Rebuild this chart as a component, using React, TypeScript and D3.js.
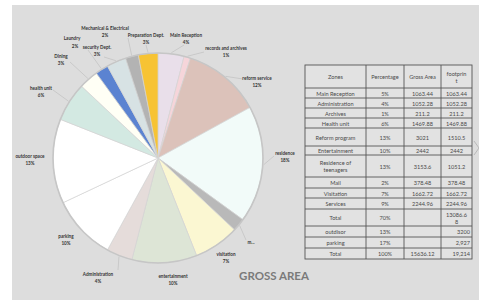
import React from 'react';
import * as d3 from 'd3';

// ---- Pie data (clockwise from 12 o'clock) ----
const sliceNames = [
  'Main Reception', 'records and archives', 'reform service', 'residence', 'm...',
  'visitation', 'entertainment', 'Administration', 'parking', 'outdoor space',
  'health unit', 'Dining', 'Laundry', 'security Dept.', 'Mechanical & Electrical', 'Preparation Dept.',
];
const sliceValues = [4, 1, 12, 18, 2, 7, 10, 4, 10, 13, 6, 3, 2, 3, 2, 3];
const slicePctShown = [true, true, true, true, false, true, true, true, true, true, true, true, true, true, true, true];
const sliceColors = [
  '#e9dfea', '#f6d5da', '#dcc2ba', '#f2fbf9', '#b9b9b9',
  '#fbf7d2', '#dde5d6', '#e5dcda', '#ffffff', '#ffffff',
  '#d3e9e2', '#fffff5', '#5b83d1', '#d7e2e4', '#b3b3b3', '#f7c333',
];

// ---- Table data ----
const tableHeader = ['Zones', 'Percentage', 'Gross Area', 'footprin\nt'];
const zones = ['Main Reception', 'Administration', 'Archives', 'Health unit', 'Reform program', 'Entertainment', 'Residence of\nteenagers', 'Mail', 'Visitation', 'Services', 'Total', 'outdisor', 'parking', 'Total'];
const percentages = ['5%', '4%', '1%', '6%', '13%', '10%', '13%', '2%', '7%', '9%', '70%', '13%', '17%', '100%'];
const grossArea = ['1063.44', '1052.28', '211.2', '1469.88', '3021', '2442', '3153.6', '378.48', '1662.72', '2244.96', '', '', '', '15636.12'];
const footprint = ['1063.44', '1052.28', '211.2', '1469.88', '1510.5', '2442', '1051.2', '378.48', '1662.72', '2244.96', '13086.6\n8', '3200', '2,927', '19,214'];
const footprintRightAligned = [false, false, false, false, false, false, false, false, false, false, false, true, true, true];

const title = 'GROSS AREA';

// ---- Layout (positions only) ----
const W = 479, H = 300;
const CX = 158, CY = 158, R = 105;
const labelPos: [number, number][] = [
  [186, 35], [226, 48], [257, 78], [285, 153], [251, 242],
  [226, 254], [173, 276], [98, 274], [66, 236], [30, 156],
  [41, 88], [61, 56], [72, 38], [97, 47], [105, 28], [146, 35],
];
const pctOffset: [number, number][] = labelPos.map((_, i) => (i === 12 ? [3, 8] : [0, 7]));
const leaderEnd: ([number, number] | null)[] = [
  [184, 45], [204, 52], [243, 79], [274, 156], [246, 240],
  null, null, [118, 270], null, null,
  [53, 90], [70, 62], [88, 50], [104, 57], [128, 38], [146, 45],
];
const colX = [305, 366, 404, 441, 472];
const headerTop = 65, headerH = 23;
const rowHeights = [10, 10, 10, 10, 18, 9, 22, 11, 10, 11, 17, 11, 11, 11];

export default function App() {
  const pie = d3.pie<number>().sort(null).value(d => d).startAngle(0).endAngle(2 * Math.PI);
  const arcs = pie(sliceValues);
  const arcGen = d3.arc<d3.PieArcDatum<number>>().innerRadius(0).outerRadius(R);

  const rowTops: number[] = [];
  let y = headerTop + headerH;
  rowHeights.forEach(h => { rowTops.push(y); y += h; });
  const tableBottom = y;

  const labelFont = 'Lato, "Liberation Sans", sans-serif';

  const cellText = (txt: string, x: number, yc: number, anchor: 'middle' | 'end', key: string) => {
    const lines = txt.split('\n');
    const lh = 7;
    const y0 = yc - ((lines.length - 1) * lh) / 2;
    return (
      <text key={key} x={x} textAnchor={anchor} fontFamily={labelFont} fontSize={5.6} fill="#4a4a4a">
        {lines.map((l, i) => (
          <tspan key={i} x={x} y={y0 + i * lh} dominantBaseline="central">{l}</tspan>
        ))}
      </text>
    );
  };

  const rows = zones.map((z, i) => {
    const top = rowTops[i];
    const yc = top + rowHeights[i] / 2;
    const cx = (a: number) => (colX[a] + colX[a + 1]) / 2;
    return (
      <g key={'r' + i}>
        {cellText(z, cx(0), yc, 'middle', 'z')}
        {cellText(percentages[i], cx(1), yc, 'middle', 'p')}
        {grossArea[i] ? cellText(grossArea[i], cx(2), yc, 'middle', 'g') : null}
        {footprintRightAligned[i]
          ? cellText(footprint[i], colX[4] - 2, yc, 'end', 'f')
          : cellText(footprint[i], cx(3), yc, 'middle', 'f')}
      </g>
    );
  });

  return (
    <svg width={W} height={H} style={{ position: 'absolute', left: 0, top: 0 }}>
      <rect x={0} y={0} width={W} height={H} fill="#ffffff" />
      <rect x={12} y={5} width={W - 12} height={H - 5} fill="#dddddd" />

      {/* pie */}
      <g transform={`translate(${CX},${CY})`}>
        {arcs.map((a, i) => (
          <path key={i} d={arcGen(a) || ''} fill={sliceColors[i]} stroke="#d4d4d4" strokeWidth={0.7} />
        ))}
        <circle r={R} fill="none" stroke="#c6c6c6" strokeWidth={1.6} />
      </g>

      {/* leader lines */}
      {arcs.map((a, i) => {
        const e = leaderEnd[i];
        if (!e) return null;
        const mid = (a.startAngle + a.endAngle) / 2;
        const sx = CX + (R + 1) * Math.sin(mid);
        const sy = CY - (R + 1) * Math.cos(mid);
        return <line key={'l' + i} x1={sx} y1={sy} x2={e[0]} y2={e[1]} stroke="#b4b4b4" strokeWidth={0.5} />;
      })}

      {/* slice labels */}
      {sliceNames.map((n, i) => {
        const [lx, ly] = labelPos[i];
        const [ox, oy] = pctOffset[i];
        return (
          <g key={'t' + i} fontFamily={labelFont} fontWeight="bold" fontSize={4.6} fill="#333">
            <text x={lx} y={ly} textAnchor="middle" dominantBaseline="central">{n}</text>
            {slicePctShown[i] ? (
              <text x={lx + ox} y={ly + oy} textAnchor="middle" dominantBaseline="central">{sliceValues[i]}%</text>
            ) : null}
          </g>
        );
      })}

      {/* table */}
      <g>
        <rect x={colX[0]} y={headerTop} width={colX[4] - colX[0]} height={tableBottom - headerTop} fill="#e2e2e2" stroke="#555" strokeWidth={0.9} />
        {colX.slice(1, 4).map((x, i) => (
          <line key={'c' + i} x1={x} y1={headerTop} x2={x} y2={tableBottom} stroke="#555" strokeWidth={0.9} />
        ))}
        {[headerTop + headerH, ...rowTops.slice(1)].map((yy, i) => (
          <line key={'h' + i} x1={colX[0]} y1={yy} x2={colX[4]} y2={yy} stroke="#555" strokeWidth={0.9} />
        ))}
        {tableHeader.map((h, i) =>
          cellText(h, (colX[i] + colX[i + 1]) / 2, headerTop + headerH / 2, 'middle', 'hd' + i)
        )}
        {rows}
      </g>

      {/* chevron */}
      <polyline points="474,141 479,148 474,155" fill="none" stroke="#b0b0b0" strokeWidth={0.8} />

      {/* title */}
      <text x={274} y={275} textAnchor="middle" dominantBaseline="central" fontFamily={labelFont} fontWeight="bold" fontSize={11.5} fill="#7a7a7a">{title}</text>
    </svg>
  );
}
